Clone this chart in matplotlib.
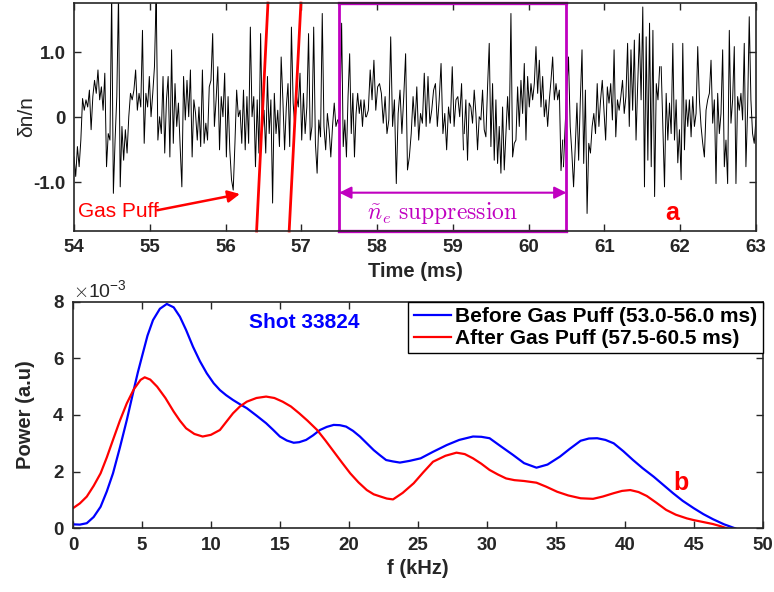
import numpy as np
import matplotlib
matplotlib.use('Agg')
import matplotlib.pyplot as plt
import matplotlib.transforms as mtransforms

plt.rcParams['font.family'] = ['Liberation Sans', 'DejaVu Sans']
plt.rcParams['mathtext.fontset'] = 'cm'

# density fluctuation trace, read in pieces (start ms, end ms, values)
dn_a = [-0.61, -0.91, -0.45, -0.76, -0.35, 0.29, 0.11, 0.27, 0.16, 0.42, -0.19, 0.32, 0.57, 0.37, 0.73,
        0.27, 0.47, 0.11, 0.68, -0.76, -0.25, -0.35, 1.9, -1.17, -0.35, 0.32, 1.9, -1.07, -0.14, -0.66,
        -0.19, -0.55, 0.01, 0.37, 0.27, 0.42, 0.73, 0.11, 0.37, 0.16, 1.34, -0.40, 0.37, 0.16, 0.63,
        0.01, 0.37, 0.78, 1.9, -0.35, 0.01, -0.25, 0.63, -0.55, 0.27, 0.63, -0.61, 1.04, -0.40, 0.52,
        -0.14, 0.22, -0.45, -1.07, 0.63, -0.04, 0.57, 0.01, 0.73, -0.61, 0.27, 0.06, -0.35, 0.16, -0.45,
        0.73, -0.40, -0.09, -0.35, 0.47, 0.57, 1.29, -0.14, 0.27, 0.78, -0.50, 0.32, 0.01, 0.68, -0.61,
        0.32, -0.50, -0.96, -1.12, -0.40, 0.42, 0.01, 0.11, -0.40, 0.42, -0.50, 0.32, -0.40, 1.39, 0.01,
        0.32, -0.76, 0.27, -0.55, 1.29, -0.19, 0.11, -0.55, 0.63, -0.25, 0.27, -1.32, 0.37, -0.25, 0.11,
        -0.45, 0.93, 0.27, -0.50, 0.16, 0.52, -0.45, 1.39, 0.22, -0.14, 0.32, 0.16, 0.68, -0.35, 0.37,
        -0.25, 0.16, 1.29, -0.35, -0.14, 1.39, -0.40, -0.86, -0.04, -0.30, 1.60, -0.14, -0.50, 0.06,
        -0.19, -0.61, -0.14, 0.22, -0.14, -0.04]
dn_b = [-0.09, 0.11, 1.45, -0.45, -0.04, -0.61, 0.32, 0.98, -0.25, 0.37, -0.61, 0.06, 0.37, 0.06,
        0.27, -0.14, 0.27, 0.01]
dn_c = [0.01, 0.11, 0.73, 0.27, 0.88, 0.11, 0.47, 0.52, 0.37, -0.09, 0.32, -0.25, -0.04, 1.24, -0.14,
        0.27, -1.02, 0.06, 0.42, -0.25, 0.32, 0.98, -0.81, -0.61, -0.25, 0.32, -0.14, 0.47, -0.35, 0.06,
        -0.09, 0.68, -0.14, 0.63, -0.09, 0.11, 0.42, 0.52, -0.14, 0.27, 0.83, -0.25, 0.06, -0.50, 0.16,
        -0.09, 0.78, -0.14, 0.27, 0.32, 0.01, 0.52, -0.50]
dn_d = [-0.25, 0.27, -0.66, 0.22, 0.16, -0.09, 0.42, 0.06, -0.50, 0.01, -0.04, 0.42, -0.19, -0.30,
        0.47, 1.14, -0.45, 0.52, -0.66, 0.27, -0.71, -0.14, -0.86, 0.16, -0.81, -0.25, 0.32, -0.19, 1.60,
        -0.61, -0.40, -0.35, 0.47, -0.14, 0.57, 0.06, 0.83, -0.35, 0.63, 0.16, 0.52, 0.27, 0.52, 1.09,
        0.37, 0.88, 0.16, 0.63, 0.01, 0.27, -0.14, 0.27, 0.57, 0.93, 0.27, 0.52, 0.27, 0.42, -0.82, -0.35]
dn_e = [-0.76, -0.14, 0.42, 0.93, -0.14, -0.55, -1.07, -0.45, 0.22, -0.66, 0.27, 1.04, -0.71, 0.42,
        -1.48, -0.40, -0.55, -0.14, 0.06, -0.25, 0.52, -0.14, 0.27, 0.57, 0.11, -0.35, 0.47, 0.22, 0.52,
        -0.04, 1.04, -0.30, 0.27, 0.11, 0.32, 0.57, 0.06, 0.32, 1.14, -0.14, 1.04, 0.11, 1.19, -0.35,
        0.52, 1.29, 0.27, 1.70, -1.07, 1.24, -0.66, 1.45, -0.76, 1.34, -1.22, 0.52, 0.27, 0.78]
dn_f = [0.78, -0.14, -1.07, 0.37, -0.35, 0.22, -0.25, 1.14, -0.35, 0.27, -0.70, -0.19, -0.96, 1.14,
        -0.50, 0.27, -0.14, 0.27, -0.30, 0.32, -0.14, 0.06, 1.09, 0.27, -0.14, -0.40, -0.61, 0.11, 0.27,
        0.37, 0.88, -0.09, 0.27, -1.02, 0.37, -0.25, 0.06, 1.04, -0.76, -0.35, -1.02, 1.34, -0.09, 0.27,
        1.09, -1.02, 0.32, 0.11, 0.37, -0.04, 1.14, -0.76, 0.11, 1.55, 0.27, -0.25, -0.40, -0.04]
pieces = [(54.0, 57.48, dn_a), (57.49, 57.85, dn_b), (57.86, 59.14, dn_c),
          (59.15, 60.45, dn_d), (60.46, 61.73, dn_e), (61.75, 63.0, dn_f)]

puff_left = [56.41, 56.56]     # red marker line, bottom -> top
puff_right = [56.995, 56.84]
supp_window = [57.5, 60.5]

# power spectra (x1e-3)
f_before = [0, 0.5, 1, 1.5, 2, 2.45, 2.9, 3.4, 3.9, 4.4, 4.7, 5.0, 5.4, 5.8, 6.3, 6.8, 7.3, 7.75, 8.2,
            8.7, 9.2, 9.7, 10.2, 10.65, 11.1, 11.6, 12.1, 12.6, 13.3, 14.0, 14.5, 15.0, 15.5, 16.0,
            16.4, 16.9, 17.4, 17.9, 18.4, 18.9, 19.35, 19.8, 20.3, 20.8, 21.3, 21.8, 22.25, 22.7,
            23.2, 23.7, 24.4, 25.2, 26.1, 27.1, 28.0, 29.0, 29.6, 30.2, 31.0, 31.9, 32.7, 33.6, 34.4,
            35.3, 36.0, 36.8, 37.4, 38.0, 38.6, 39.2, 39.9, 40.6, 41.3, 42.1, 42.8, 43.5, 44.2, 45.0,
            45.7, 46.4, 47.2, 48.0]
p_before = [0.14, 0.13, 0.18, 0.4, 0.76, 1.3, 1.94, 2.85, 3.82, 4.88, 5.5, 6.06, 6.8, 7.35, 7.75, 7.92,
            7.8, 7.47, 7.0, 6.41, 5.9, 5.47, 5.12, 4.88, 4.7, 4.53, 4.38, 4.24, 3.98, 3.71, 3.48, 3.24,
            3.1, 3.02, 3.04, 3.12, 3.28, 3.47, 3.58, 3.65, 3.64, 3.59, 3.44, 3.24, 3.0, 2.76, 2.58, 2.41,
            2.36, 2.32, 2.38, 2.47, 2.7, 2.94, 3.12, 3.24, 3.23, 3.18, 2.9, 2.59, 2.3, 2.14, 2.25, 2.53,
            2.8, 3.09, 3.17, 3.18, 3.12, 3.0, 2.72, 2.41, 2.12, 1.82, 1.53, 1.24, 0.97, 0.71, 0.5, 0.32,
            0.14, 0.0]
f_after = [0, 0.5, 1, 1.5, 2, 2.45, 2.9, 3.4, 3.9, 4.4, 4.9, 5.2, 5.6, 6.1, 6.7, 7.3, 7.75, 8.2, 8.8,
           9.4, 10.0, 10.65, 11.1, 11.6, 12.1, 12.6, 13.3, 14.0, 14.6, 15.2, 15.8, 16.4, 17.0, 17.7,
           18.3, 18.9, 19.5, 20.1, 20.7, 21.3, 21.8, 22.3, 22.75, 23.2, 23.9, 24.7, 25.4, 26.1, 27.0,
           27.8, 28.4, 29.0, 29.6, 30.2, 30.8, 31.4, 32.0, 32.7, 33.6, 34.3, 35.1, 35.9, 36.8, 37.7,
           38.4, 39.2, 39.8, 40.4, 41.0, 41.6, 42.3, 43.0, 43.7, 44.5, 45.0, 45.5, 46.4, 46.9, 47.4]
p_after = [0.71, 0.88, 1.12, 1.5, 1.94, 2.5, 3.12, 3.8, 4.41, 4.9, 5.24, 5.33, 5.25, 5.0, 4.6, 4.12,
           3.8, 3.53, 3.33, 3.24, 3.3, 3.47, 3.75, 4.06, 4.3, 4.47, 4.6, 4.65, 4.6, 4.47, 4.3, 4.06,
           3.8, 3.47, 3.1, 2.71, 2.32, 1.94, 1.62, 1.35, 1.2, 1.12, 1.05, 1.02, 1.25, 1.59, 1.98, 2.35,
           2.56, 2.67, 2.62, 2.47, 2.28, 2.06, 1.9, 1.76, 1.7, 1.67, 1.61, 1.47, 1.29, 1.16, 1.06, 1.04,
           1.12, 1.24, 1.32, 1.35, 1.28, 1.14, 0.9, 0.65, 0.48, 0.35, 0.29, 0.24, 0.15, 0.08, 0.0]

axc = '#262626'
mag = '#C000C0'

fig = plt.figure(figsize=(7.74, 5.92), dpi=100)
ax1 = fig.add_axes([0.0956, 0.6098, 0.881, 0.385])
ax2 = fig.add_axes([0.0943, 0.1076, 0.8911, 0.3828])

for ax in (ax1, ax2):
    ax.tick_params(direction='in', top=True, right=True, length=5, width=1, colors=axc,
                   labelsize=13.5, pad=6)
    for sp in ax.spines.values():
        sp.set_linewidth(1.2)
        sp.set_color(axc)

# ---- panel a ----
for t0, t1, vals in pieces:
    ax1.plot(np.linspace(t0, t1, len(vals)), vals, color='k', lw=0.7)
ax1.set_xlim(54, 63)
ax1.set_ylim(-1.75, 1.76)
ax1.set_xticks(range(54, 64))
ax1.set_xticklabels([str(v) for v in range(54, 64)], fontweight='bold')
ax1.set_yticks([-1, 0, 1])
ax1.set_yticklabels(['-1.0', '0', '1.0'], fontweight='bold')
ax1.set_xlabel('Time (ms)', fontsize=14.5, fontweight='bold', color=axc, labelpad=4)
ax1.set_ylabel('δn/n', fontsize=15, color=axc)
ax1.yaxis.set_label_coords(-0.055, 0.5)

trans = mtransforms.blended_transform_factory(ax1.transData, ax1.transAxes)
ax1.plot(puff_left, [0, 1], color='red', lw=2, transform=trans, clip_on=False)
ax1.plot(puff_right, [1, 0], color='red', lw=2, transform=trans, clip_on=False)
ax1.text(54.05, -1.45, 'Gas Puff', color='red', fontsize=15, va='center', ha='left')
ax1.annotate('', xy=(56.19, -1.18), xytext=(55.1, -1.43),
             arrowprops=dict(arrowstyle='-|>', color='red', lw=1.8, mutation_scale=18,
                             shrinkA=0, shrinkB=0))

ax1.plot([supp_window[0]] * 2, [0, 1], color=mag, lw=2, transform=trans, clip_on=False)
ax1.plot([supp_window[1]] * 2, [0, 1], color=mag, lw=2, transform=trans, clip_on=False)
ax1.plot(supp_window, [0, 0], color=mag, lw=2.4, transform=trans, clip_on=False)
ax1.plot(supp_window, [1, 1], color=mag, lw=2.4, transform=trans, clip_on=False)
ax1.annotate('', xy=(supp_window[0], -1.16), xytext=(supp_window[1], -1.16),
             arrowprops=dict(arrowstyle='<|-|>', color=mag, lw=1.5, mutation_scale=18,
                             shrinkA=0, shrinkB=0))
ax1.text(58.87, -1.47, r'$\tilde{n}_e\ \mathrm{suppression}$', color=mag, fontsize=17,
         ha='center', va='center')
ax1.text(61.9, -1.47, 'a', color='red', fontsize=18, fontweight='bold', ha='center', va='center')

# ---- panel b ----
ax2.plot(f_before, np.array(p_before) * 1e-3, color='blue', lw=1.6,
         label='Before Gas Puff (53.0-56.0 ms)')
ax2.plot(f_after, np.array(p_after) * 1e-3, color='red', lw=1.6,
         label='After Gas Puff (57.5-60.5 ms)')
ax2.set_xlim(0, 50)
ax2.set_ylim(0, 8e-3)
ax2.set_xticks(range(0, 51, 5))
ax2.set_yticks(np.arange(0, 9, 2) * 1e-3)
ax2.ticklabel_format(axis='y', style='sci', scilimits=(0, 0), useMathText=True)
ax2.yaxis.get_offset_text().set_fontsize(14)
ax2.yaxis.get_offset_text().set_color(axc)
for lab in ax2.get_xticklabels() + ax2.get_yticklabels():
    lab.set_fontweight('bold')
ax2.set_xlabel('f (kHz)', fontsize=14.5, fontweight='bold', color=axc, labelpad=4)
ax2.set_ylabel('Power (a.u)', fontsize=14.5, fontweight='bold', color=axc)
ax2.yaxis.set_label_coords(-0.055, 0.5)
ax2.text(16.8, 7.25e-3, 'Shot 33824', color='blue', fontsize=15, fontweight='bold',
         ha='center', va='center')
ax2.text(44.1, 1.6e-3, 'b', color='red', fontsize=18, fontweight='bold', ha='center', va='center')

leg = ax2.legend(loc='upper right', borderaxespad=0, fancybox=False, framealpha=1,
                 edgecolor='k', prop=dict(size=15, weight='bold'), handlelength=1.8,
                 handletextpad=0.2, labelspacing=0.15, borderpad=0.25)
leg.get_frame().set_linewidth(1.0)

fig.savefig('out.png', dpi=100)
